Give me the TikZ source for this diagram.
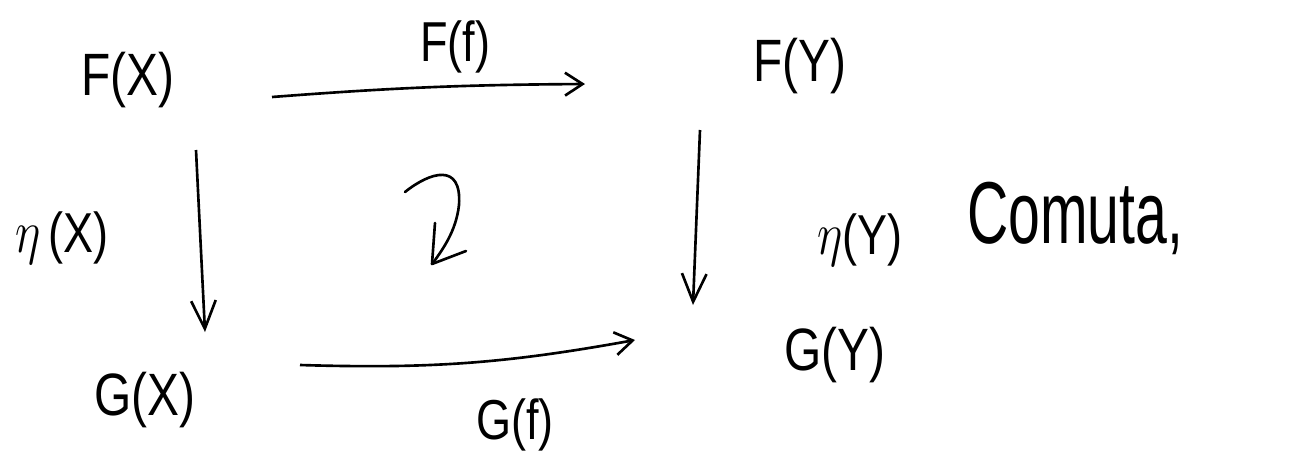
\documentclass[tikz,border=0pt]{standalone}
\usepackage{fontspec}
\usepackage{graphicx}
\setmainfont{Liberation Sans}
\usetikzlibrary{arrows.meta}
\newcommand{\hand}[2][0.8]{\scalebox{#1}[1]{#2}}
\begin{document}
\begin{tikzpicture}[x=0.01cm,y=-0.01cm,
  obj/.style={font=\fontsize{17}{20}\selectfont},
  lbl/.style={font=\fontsize{16}{19}\selectfont},
  harr/.style={line width=0.75pt,-{Straight Barb[length=5pt,width=6.5pt,line width=0.75pt]}},
  varr/.style={line width=0.75pt,-{Straight Barb[length=8pt,width=7pt,line width=0.75pt]}},
  pen/.style={line width=0.75pt,line cap=round,line join=round}]
\useasboundingbox (0,0) rectangle (1290,457);
% objects
\node[obj] (FX) at (128,80) {\hand{F(X)}};
\node[obj] (FY) at (800,66) {\hand{F(Y)}};
\node[obj] (GX) at (145,400) {\hand{G(X)}};
\node[obj] (GY) at (835,355) {\hand{G(Y)}};
% morphisms
\coordinate (t1) at (272,97);
\coordinate (t2) at (585,84);
\draw[harr] (t1) to[bend left=2] (t2);
\node[lbl] (Ff) at (455,47) {\hand{F(f)}};
\coordinate (b1) at (300,365);
\coordinate (b2) at (635,340);
\draw[harr] (b1) to[bend right=6] (b2);
\node[lbl] (Gf) at (515,425) {\hand{G(f)}};
\coordinate (l1) at (196,150);
\coordinate (l2) at (205,332);
\draw[varr] (l1) -- (l2);
\node[lbl] (etaX) at (62,238) {\hand{$\eta$\,(X)}};
\coordinate (r1) at (700,130);
\coordinate (r2) at (693,305);
\draw[varr] (r1) -- (r2);
\node[lbl] (etaY) at (860,240) {\hand{$\eta$(Y)}};
\node[font=\fontsize{25}{30}\selectfont] (com) at (1075,218) {\hand[0.65]{Comuta,}};
% commutativity curl
\draw[pen] (405,192) .. controls (430,172) and (462,162) .. (459,205)
  .. controls (456,232) and (442,250) .. (433,263);
\draw[pen] (435,223) -- (432,264) -- (466,251);
\end{tikzpicture}
\end{document}
